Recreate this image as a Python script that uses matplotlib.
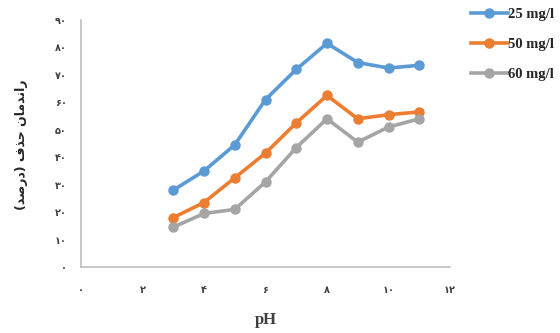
import matplotlib.pyplot as plt

# removal efficiency (%) vs pH for three initial concentrations
ph = [3, 4, 5, 6, 7, 8, 9, 10, 11]
c25 = [28, 35, 44.5, 61, 72, 81.5, 74.5, 72.5, 73.5]
c50 = [18, 23.5, 32.5, 41.5, 52.5, 62.5, 54, 55.5, 56.5]
c60 = [14.5, 19.5, 21, 31, 43.5, 54, 45.5, 51, 54]
labels = ["25 mg/l", "50 mg/l", "60 mg/l"]
colors = ["#5B9BD5", "#ED7D31", "#A5A5A5"]

xticks = [0, 2, 4, 6, 8, 10, 12]
yticks = [0, 10, 20, 30, 40, 50, 60, 70, 80, 90]

fa_digits = str.maketrans("0123456789", "۰۱۲۳۴۵۶۷۸۹")

def fa(n):
    return str(n).translate(fa_digits)

# shaped presentation forms, laid out left to right
ylabel = ("(" + "\uFEAA\uFEBB\uFEAD\uFEA9" + ") "
          + "\uFED1\uFEAC\uFEA3" + " "
          + "\uFEE5\uFE8E\uFEE3\uFEAA\uFEE7\uFE8D\uFEAD")

fig = plt.figure(figsize=(5.6, 3.33), dpi=100)
ax = fig.add_axes([81/560, 66/333, 369/560, 247/333])

for ys, lab, col in zip([c25, c50, c60], labels, colors):
    ax.plot(ph, ys, color=col, lw=2.6, marker="o", ms=6.5, label=lab)

ax.set_xlim(0, 12)
ax.set_ylim(0, 90)
ax.set_xticks(xticks)
ax.set_yticks(yticks)
ax.set_xticklabels([fa(v) for v in xticks], fontsize=7, fontweight="bold", color="#404040")
ax.set_yticklabels([fa(v) for v in yticks], fontsize=7, fontweight="bold", color="#404040")
ax.tick_params(axis="x", length=0, pad=13)
ax.tick_params(axis="y", length=0, pad=10)

for s in ["top", "right"]:
    ax.spines[s].set_visible(False)
for s in ["left", "bottom"]:
    ax.spines[s].set_color("#BFBFBF")
    ax.spines[s].set_linewidth(1.2)

ax.set_xlabel("pH", family="Liberation Serif", fontsize=12, fontweight="bold",
              color="#404040", labelpad=12)
fig.text(22/560, 1 - 145/333, ylabel, rotation=90, ha="center", va="center",
         fontsize=9, fontweight="bold", color="#262626", family="DejaVu Sans")

fig.legend(loc="upper left", bbox_to_anchor=(458/560, 1.015), frameon=False,
           prop={"family": "Liberation Serif", "size": 10.5, "weight": "bold"},
           handlelength=2.5, handletextpad=0.05, labelspacing=1.15,
           labelcolor="#262626")

fig.savefig("out.png", dpi=100)
